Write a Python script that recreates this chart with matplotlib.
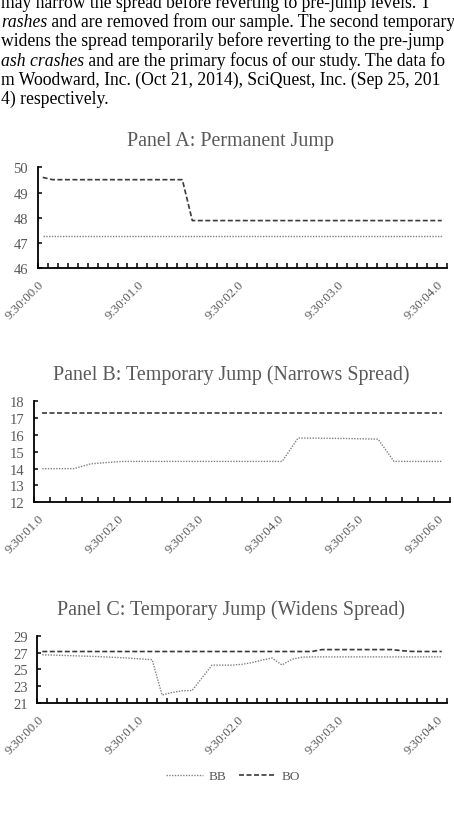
import numpy as np
import matplotlib.pyplot as plt
from matplotlib.transforms import ScaledTranslation

plt.rcParams['font.family'] = ['Liberation Serif', 'DejaVu Serif']

W, H = 454, 837
GRAY = '#595959'

# Panel A: permanent jump, 0.1 s steps from 9:30:00.0 to 9:30:04.0
bb_a = [47.26, 47.26, 47.26, 47.26, 47.26, 47.26, 47.26, 47.26, 47.26, 47.26,
        47.26, 47.26, 47.26, 47.26, 47.26, 47.26, 47.26, 47.26, 47.26, 47.26,
        47.26, 47.26, 47.26, 47.26, 47.26, 47.26, 47.26, 47.26, 47.26, 47.26,
        47.26, 47.26, 47.26, 47.26, 47.26, 47.26, 47.26, 47.26, 47.26, 47.26,
        47.26]
bo_a = [49.60, 49.51, 49.51, 49.51, 49.51, 49.51, 49.51, 49.51, 49.51, 49.51,
        49.51, 49.51, 49.51, 49.51, 49.51, 47.89, 47.89, 47.89, 47.89, 47.89,
        47.89, 47.89, 47.89, 47.89, 47.89, 47.89, 47.89, 47.89, 47.89, 47.89,
        47.89, 47.89, 47.89, 47.89, 47.89, 47.89, 47.89, 47.89, 47.89, 47.89,
        47.89]
labels_a = ['9:30:00.0', '9:30:01.0', '9:30:02.0', '9:30:03.0', '9:30:04.0']

# Panel B: temporary jump that narrows the spread, 0.2 s steps
bb_b = [14.00, 14.00, 14.00, 14.28, 14.36, 14.43, 14.43, 14.43, 14.43, 14.43,
        14.43, 14.43, 14.43, 14.43, 14.43, 14.43, 15.82, 15.81, 15.80, 15.79,
        15.77, 15.75, 14.43, 14.43, 14.43, 14.43]
bo_b = [17.32, 17.32, 17.32, 17.32, 17.32, 17.32, 17.32, 17.32, 17.32, 17.32,
        17.32, 17.32, 17.32, 17.32, 17.32, 17.32, 17.32, 17.32, 17.32, 17.32,
        17.32, 17.32, 17.32, 17.32, 17.32, 17.32]
labels_b = ['9:30:01.0', '9:30:02.0', '9:30:03.0', '9:30:04.0', '9:30:05.0', '9:30:06.0']

# Panel C: temporary jump that widens the spread, 0.1 s steps
bb_c = [26.73, 26.70, 26.66, 26.62, 26.58, 26.54, 26.49, 26.44, 26.38, 26.31,
        26.23, 26.15, 21.94, 22.25, 22.45, 22.48, 24.00, 25.50, 25.50, 25.50,
        25.60, 25.80, 26.10, 26.35, 25.52, 26.20, 26.45, 26.48, 26.48, 26.48,
        26.48, 26.48, 26.48, 26.48, 26.48, 26.48, 26.48, 26.48, 26.48, 26.48,
        26.48]
bo_c = [27.12, 27.12, 27.12, 27.12, 27.12, 27.12, 27.12, 27.12, 27.12, 27.12,
        27.12, 27.12, 27.12, 27.12, 27.12, 27.12, 27.12, 27.12, 27.12, 27.12,
        27.12, 27.12, 27.12, 27.12, 27.12, 27.12, 27.12, 27.12, 27.35, 27.35,
        27.35, 27.35, 27.35, 27.35, 27.35, 27.35, 27.22, 27.13, 27.12, 27.12,
        27.12]
labels_c = ['9:30:00.0', '9:30:01.0', '9:30:02.0', '9:30:03.0', '9:30:04.0']


def add_ax(fig, left, top, right, bottom):
    return fig.add_axes([left / W, 1 - bottom / H, (right - left) / W, (bottom - top) / H])


def panel(fig, ax, bb, bo, ylo, yhi, ystep, labels, every):
    n = len(bb)
    x = np.arange(n)
    ax.plot(x, bb, color='#808080', ls=(0, (1, 1)), lw=1.0, label='BB')
    ax.plot(x, bo, color='#3a3a3a', ls=(0, (3, 1.5)), lw=1.2, label='BO')
    ax.set_xlim(-0.5, n - 0.5)
    ax.set_ylim(ylo, yhi)
    ax.set_yticks(np.arange(ylo, yhi + ystep / 2, ystep))
    ax.set_xticks(np.arange(0, n, every))
    ax.set_xticklabels(labels, rotation=45, ha='right', va='top')
    ax.set_xticks(np.arange(-0.5, n), minor=True)
    ax.tick_params(axis='x', which='major', length=0, pad=7, labelsize=9.3, labelcolor=GRAY)
    ax.tick_params(axis='x', which='minor', direction='in', length=3.5, width=1.1, color='black')
    ax.tick_params(axis='y', direction='in', length=3, width=1.1, pad=7, labelsize=10.5, labelcolor=GRAY)
    shift = ScaledTranslation(4 / 100, 0, fig.dpi_scale_trans)
    for lab in ax.get_xticklabels():
        lab.set_transform(lab.get_transform() + shift)
    for s in ['top', 'right']:
        ax.spines[s].set_visible(False)
    for s in ['left', 'bottom']:
        ax.spines[s].set_linewidth(1.3)
        ax.spines[s].set_color('black')


fig = plt.figure(figsize=(W / 100, H / 100), dpi=100)
renderer = fig.canvas.get_renderer()

# clipped paragraph text above the chart
para = [
    ('', 'may narrow the spread before reverting to pre-jump levels. T'),
    ('rashes', ' and are removed from our sample. The second temporary'),
    ('', 'widens the spread temporarily before reverting to the pre-jump'),
    ('ash crashes', ' and are the primary focus of our study. The data fo'),
    ('', 'm Woodward, Inc. (Oct 21, 2014), SciQuest, Inc. (Sep 25, 201'),
    ('', '4) respectively.'),
]
base_y = 7.6
for i, (ital, rest) in enumerate(para):
    y = 1 - (base_y + i * 19.3) / H
    x0 = 1.0
    if ital:
        t = fig.text(x0 / W, y, ital, style='italic', fontsize=12.7, va='baseline', ha='left')
        x0 = t.get_window_extent(renderer=renderer).x1
    fig.text(x0 / W, y, rest, fontsize=12.7, va='baseline', ha='left')

ax_a = add_ax(fig, 37.7, 168.3, 446.7, 269.3)
panel(fig, ax_a, bb_a, bo_a, 46, 50, 1, labels_a, 10)
ax_b = add_ax(fig, 34.3, 402.3, 450.0, 503.3)
panel(fig, ax_b, bb_b, bo_b, 12, 18, 1, labels_b, 5)
ax_c = add_ax(fig, 37.3, 636.7, 446.7, 704.0)
panel(fig, ax_c, bb_c, bo_c, 21, 29, 2, labels_c, 10)

titles = [('Panel A: Permanent Jump', 146),
          ('Panel B: Temporary Jump (Narrows Spread)', 380),
          ('Panel C: Temporary Jump (Widens Spread)', 615)]
for txt, yb in titles:
    fig.text(231 / W, 1 - yb / H, txt, ha='center', va='baseline', fontsize=14.4, color=GRAY)

handles, names = ax_c.get_legend_handles_labels()
fig.legend(handles, names, loc='center', bbox_to_anchor=(233 / W, 1 - 777 / H), ncol=2,
           frameon=False, fontsize=9.5, labelcolor=GRAY, handlelength=2.8,
           handletextpad=0.4, columnspacing=1.0)

fig.savefig('out.png', dpi=100)
